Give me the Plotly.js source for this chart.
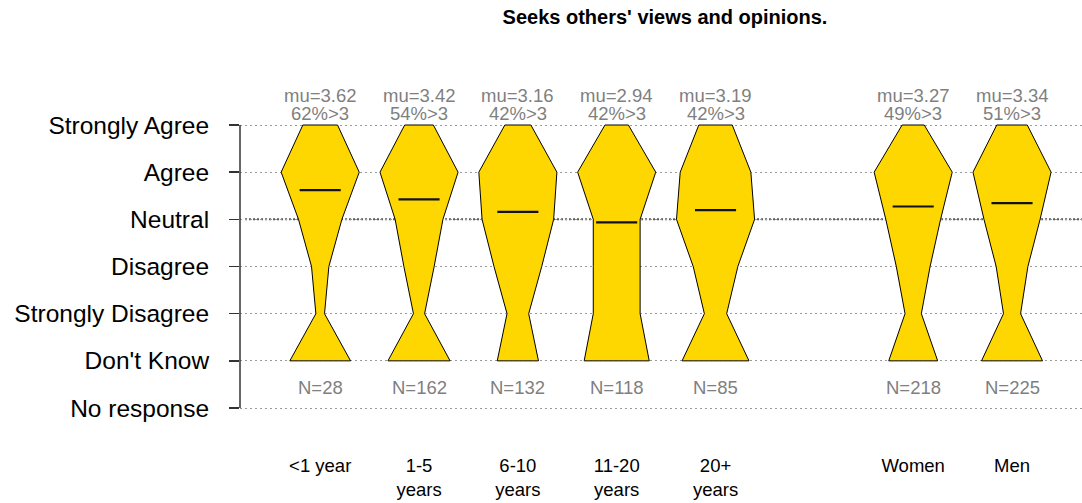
<!DOCTYPE html>
<html>
<head>
<meta charset="utf-8">
<script src="https://cdn.plot.ly/plotly-3.0.1.min.js"></script>
<style>html,body{margin:0;padding:0;background:#fff;}#chart{width:1082px;height:503px;}</style>
</head>
<body>
<div id="chart"></div>
<script>
// ---- data ----
const titleText = "Seeks others' views and opinions.";
const categories = ["&lt;1 year", "1-5<br>years", "6-10<br>years", "11-20<br>years", "20+<br>years", "Women", "Men"];
const levelLabels = ["No response", "Don't Know", "Strongly Disagree", "Disagree", "Neutral", "Agree", "Strongly Agree"];
// counts per response level, one entry per category
const cntDontKnow   = [7, 39, 19, 25, 18, 42, 50];
const cntStrDis     = [1,  7, 10, 18,  6, 14, 14];
const cntDisagree   = [2, 19, 22, 18, 12, 29, 26];
const cntNeutral    = [5, 30, 33, 18, 21, 47, 46];
const cntAgree      = [9, 49, 36, 30, 19, 67, 64];
const cntStrAgree   = [4, 18, 12,  9,  9, 19, 25];

// ---- layout helpers (not data) ----
const slots = [1, 2, 3, 4, 5, 7, 8];
const maxHalf = 0.395;   // half-width of widest level, x units
const meanHalf = 0.208;
const gold = '#FFD700';
const grey = '#7f7f7f';
const font = 'Liberation Sans, Arial, sans-serif';

const traces = [];
const annotations = [];
const shapes = [];

categories.forEach((c, i) => {
  const counts = [cntDontKnow[i], cntStrDis[i], cntDisagree[i], cntNeutral[i], cntAgree[i], cntStrAgree[i]];
  const levels = [1, 2, 3, 4, 5, 6];
  const mx = Math.max(...counts);
  const x0 = slots[i];
  const xs = [], ys = [];
  levels.forEach((lv, k) => { xs.push(x0 - counts[k] / mx * maxHalf); ys.push(lv); });
  for (let k = levels.length - 1; k >= 0; k--) { xs.push(x0 + counts[k] / mx * maxHalf); ys.push(levels[k]); }
  xs.push(xs[0]); ys.push(ys[0]);
  traces.push({
    type: 'scatter', mode: 'lines', x: xs, y: ys, fill: 'toself', fillcolor: gold,
    line: {color: '#000', width: 1}, hoverinfo: 'skip', showlegend: false
  });
  // statistics (Strongly Disagree = 1 ... Strongly Agree = 5, Don't Know excluded)
  const valid = counts.slice(1);
  const n = valid.reduce((a, b) => a + b, 0);
  const total = counts.reduce((a, b) => a + b, 0);
  const mu = valid.reduce((a, v, k) => a + v * (k + 1), 0) / n;
  const pct = Math.round((valid[3] + valid[4]) / n * 100);
  traces.push({
    type: 'scatter', mode: 'lines', x: [x0 - meanHalf, x0 + meanHalf], y: [mu + 1, mu + 1],
    line: {color: '#111', width: 2.2}, hoverinfo: 'skip', showlegend: false
  });
  annotations.push({x: x0, y: 6.636, xref: 'x', yref: 'y', text: 'mu=' + mu.toFixed(2), showarrow: false,
    font: {family: font, size: 18.5, color: grey}, yanchor: 'middle'});
  annotations.push({x: x0, y: 6.254, xref: 'x', yref: 'y', text: pct + '%&gt;3', showarrow: false,
    font: {family: font, size: 18.5, color: grey}, yanchor: 'middle'});
  annotations.push({x: x0, y: 0.445, xref: 'x', yref: 'y', text: 'N=' + total, showarrow: false,
    font: {family: font, size: 18.5, color: grey}, yanchor: 'middle'});
});

// y axis line (only between first and last level)
shapes.push({type: 'line', xref: 'paper', yref: 'y', x0: 0, x1: 0, y0: 0, y1: 6,
  line: {color: '#333', width: 1.5}, layer: 'above'});
// neutral reference line (darker)
shapes.push({type: 'line', xref: 'paper', yref: 'y', x0: 0.006, x1: 1, y0: 4, y1: 4,
  line: {color: '#555', width: 2, dash: '2px,2px'}, layer: 'below'});

const layout = {
  width: 1082, height: 503,
  margin: {l: 240, r: 0, t: 60, b: 63},
  paper_bgcolor: '#fff', plot_bgcolor: '#fff',
  font: {family: font, color: '#000'},
  title: {text: '<b>' + titleText + '</b>', font: {family: font, size: 20, color: '#000'},
    xref: 'container', x: 665 / 1082, xanchor: 'center', yref: 'container', y: 1 - 17 / 503, yanchor: 'middle'},
  xaxis: {range: [0.1886, 8.708], tickvals: slots, ticktext: categories, showgrid: false, zeroline: false,
    showline: false, ticks: '', tickfont: {family: font, size: 18.5, color: '#000'}, ticklabelstandoff: 12,
    fixedrange: true},
  yaxis: {range: [-0.678, 7.378], tickvals: [0, 1, 2, 3, 4, 5, 6], ticktext: levelLabels,
    showgrid: true, gridcolor: '#9a9a9a', gridwidth: 1, griddash: '2px,3px', zeroline: false, showline: false,
    ticks: 'outside', ticklen: 10, tickwidth: 1.5, tickcolor: '#333', ticklabelstandoff: 15,
    tickfont: {family: font, size: 24.5, color: '#000'}, fixedrange: true},
  shapes: shapes,
  annotations: annotations
};

Plotly.newPlot('chart', traces, layout, {displayModeBar: false, staticPlot: true});
</script>
</body>
</html>
